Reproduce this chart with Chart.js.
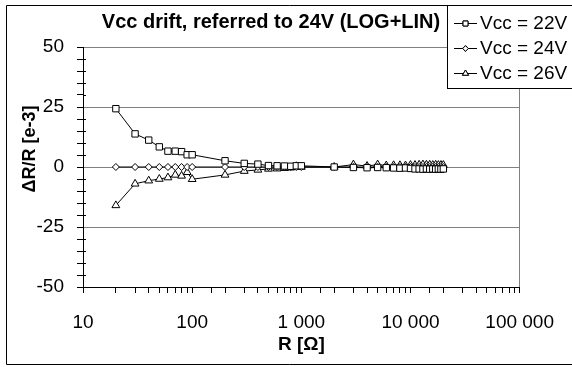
<!DOCTYPE html>
<html>
<head>
<meta charset="utf-8">
<script src="https://cdn.jsdelivr.net/npm/chart.js@4.4.1/dist/chart.umd.min.js"></script>
<style>
html,body{margin:0;padding:0;background:#fff;}
#wrap{position:relative;width:572px;height:367px;}
canvas{display:block;}
</style>
</head>
<body>
<div id="wrap"><canvas id="c" width="572" height="367"></canvas></div>
<script>
// ---- data ----
const resistances = [20,30,40,50,60,70,80,90,100,200,300,400,500,600,700,800,900,1000,
  2000,3000,4000,5000,6000,7000,8000,9000,10000,11000,12000,13000,14000,15000,16000,17000,18000,19000,20000];
const drift22 = [24.3,13.8,11.2,8.4,6.6,6.6,6.4,5.1,5.1,2.6,1.5,1.2,0.6,0.5,0.4,0.3,0.5,0.5,
  0.0,-0.2,-0.3,-0.2,-0.3,-0.4,-0.5,-0.4,-0.6,-0.8,-0.8,-0.9,-0.8,-0.9,-0.8,-0.9,-0.8,-0.9,-0.8];
const drift24 = [0,0,0,0,0,0,0,0,0,0,0,0,0,0,0,0,0,0,
  0,0,0,0,0,0,0,0,0,0,0,0,0,0,0,0,0,0,0];
const drift26 = [-16,-7,-5.7,-5,-4.4,-3.3,-3.7,-2.2,-5.1,-3.3,-1.7,-1.2,-0.8,-0.7,-0.5,-0.3,0.3,0.0,
  0.0,1.0,0.4,1.0,0.6,0.7,0.7,0.6,0.8,0.8,0.9,1.0,0.9,0.9,0.8,0.9,0.8,0.8,0.8];
const seriesNames = ['Vcc = 22V','Vcc = 24V','Vcc = 26V'];
const seriesMarkers = ['rect','rectRot','triangle'];
const yMajorTicks = [-50,-25,0,25,50];
const xDecadeLabels = ['10','100','1 000','10 000','100 000'];
const titleText = 'Vcc drift, referred to 24V (LOG+LIN)';
const xTitle = 'R [\u03A9]';
const yTitle = '\u0394R/R [e-3]';

const FONT = "'Liberation Sans', Arial, sans-serif";
Chart.defaults.font.family = FONT;
Chart.defaults.color = '#000';

const seriesValues = [drift22, drift24, drift26];
const markerRadius = [4.5, 3.5, 4.5];
const datasets = seriesValues.map((vals, i) => ({
  label: seriesNames[i],
  data: resistances.map((r, k) => ({x: r, y: vals[k]})),
  borderColor: '#000',
  borderWidth: 1,
  backgroundColor: '#fff',
  pointStyle: seriesMarkers[i],
  pointRadius: markerRadius[i],
  pointBorderColor: '#000',
  pointBackgroundColor: '#fff',
  pointBorderWidth: 1,
  tension: 0,
  fill: false
}));

const GRID = '#808080';
const isDecade = v => Math.abs(Math.log10(v) - Math.round(Math.log10(v))) < 1e-9;

const decor = {
  id: 'decor',
  beforeDatasetsDraw(chart) {
    const ctx = chart.ctx, y = chart.scales.y, a = chart.chartArea;
    ctx.save();
    ctx.strokeStyle = '#000';
    ctx.lineWidth = 1;
    for (let v = -45; v <= 45; v += 5) {
      if (v % 25 === 0) continue;
      const py = Math.round(y.getPixelForValue(v)) + 0.5;
      ctx.beginPath();
      ctx.moveTo(a.left, py);
      ctx.lineTo(a.left + 3, py);
      ctx.stroke();
    }
    ctx.restore();
  },
  afterDraw(chart) {
    const ctx = chart.ctx, a = chart.chartArea;
    ctx.save();
    // outer frame
    ctx.strokeStyle = '#000';
    ctx.lineWidth = 1;
    ctx.beginPath();
    ctx.moveTo(580, 5.5); ctx.lineTo(6.5, 5.5); ctx.lineTo(6.5, 364.5); ctx.lineTo(580, 364.5);
    ctx.stroke();
    // title
    ctx.fillStyle = '#000';
    ctx.font = 'bold 20px ' + FONT;
    ctx.textAlign = 'center';
    ctx.textBaseline = 'alphabetic';
    ctx.fillText(titleText, 271, 28);
    // x title
    ctx.font = 'bold 19px ' + FONT;
    ctx.fillText(xTitle, (a.left + a.right) / 2, 350);
    // y title
    ctx.font = 'bold 18px ' + FONT;
    ctx.save();
    ctx.translate(35, 149);
    ctx.rotate(-Math.PI / 2);
    ctx.fillText(yTitle, 0, 0);
    ctx.restore();
    // legend
    ctx.fillStyle = '#fff';
    ctx.fillRect(447, 5, 130, 83);
    ctx.strokeStyle = '#000';
    ctx.strokeRect(447.5, 5.5, 130, 83);
    const rows = [23, 48, 73];
    const lr = [3.5, 2.8, 3.5];
    ctx.font = '19px ' + FONT;
    ctx.textAlign = 'left';
    ctx.textBaseline = 'middle';
    for (let i = 0; i < 3; i++) {
      const yy = rows[i] + 0.5;
      ctx.beginPath();
      ctx.moveTo(454, yy); ctx.lineTo(477, yy);
      ctx.strokeStyle = '#000'; ctx.lineWidth = 1; ctx.stroke();
      ctx.fillStyle = '#fff';
      Chart.helpers.drawPoint(ctx, {pointStyle: seriesMarkers[i], radius: lr[i], borderWidth: 1, rotation: 0}, 465.5, yy);
      ctx.fill(); ctx.stroke();
      ctx.fillStyle = '#000';
      ctx.fillText(seriesNames[i], 480, rows[i] + 1);
    }
    ctx.restore();
  }
};

new Chart(document.getElementById('c'), {
  type: 'line',
  data: {datasets},
  options: {
    responsive: false,
    animation: false,
    devicePixelRatio: 1,
    layout: {padding: {left: 0, top: 47, right: 38, bottom: 0}},
    plugins: {legend: {display: false}, title: {display: false}, tooltip: {enabled: false}},
    scales: {
      x: {
        type: 'logarithmic',
        min: 10, max: 100000,
        afterFit(s) { s.height = 80; },
        border: {color: '#000', width: 1},
        grid: {
          color: c => (c.tick && c.tick.value === 100000) ? GRID : 'rgba(0,0,0,0)',
          tickColor: '#000',
          tickLength: 6,
          drawOnChartArea: true
        },
        ticks: {
          autoSkip: false, maxRotation: 0, minRotation: 0, padding: 18,
          font: {size: 19},
          callback: v => isDecade(v) ? xDecadeLabels[Math.round(Math.log10(v)) - 1] : ''
        }
      },
      y: {
        type: 'linear',
        min: -50, max: 50,
        afterFit(s) { s.width = 83; },
        border: {color: '#000', width: 1},
        grid: {
          color: c => (c.tick && c.tick.value % 25 === 0) ? GRID : 'rgba(0,0,0,0)',
          tickColor: '#000',
          tickLength: 6
        },
        ticks: {
          stepSize: 5, autoSkip: false, padding: 13,
          font: {size: 19},
          callback: v => yMajorTicks.includes(v) ? String(v) : ''
        }
      }
    }
  },
  plugins: [decor]
});
</script>
</body>
</html>
